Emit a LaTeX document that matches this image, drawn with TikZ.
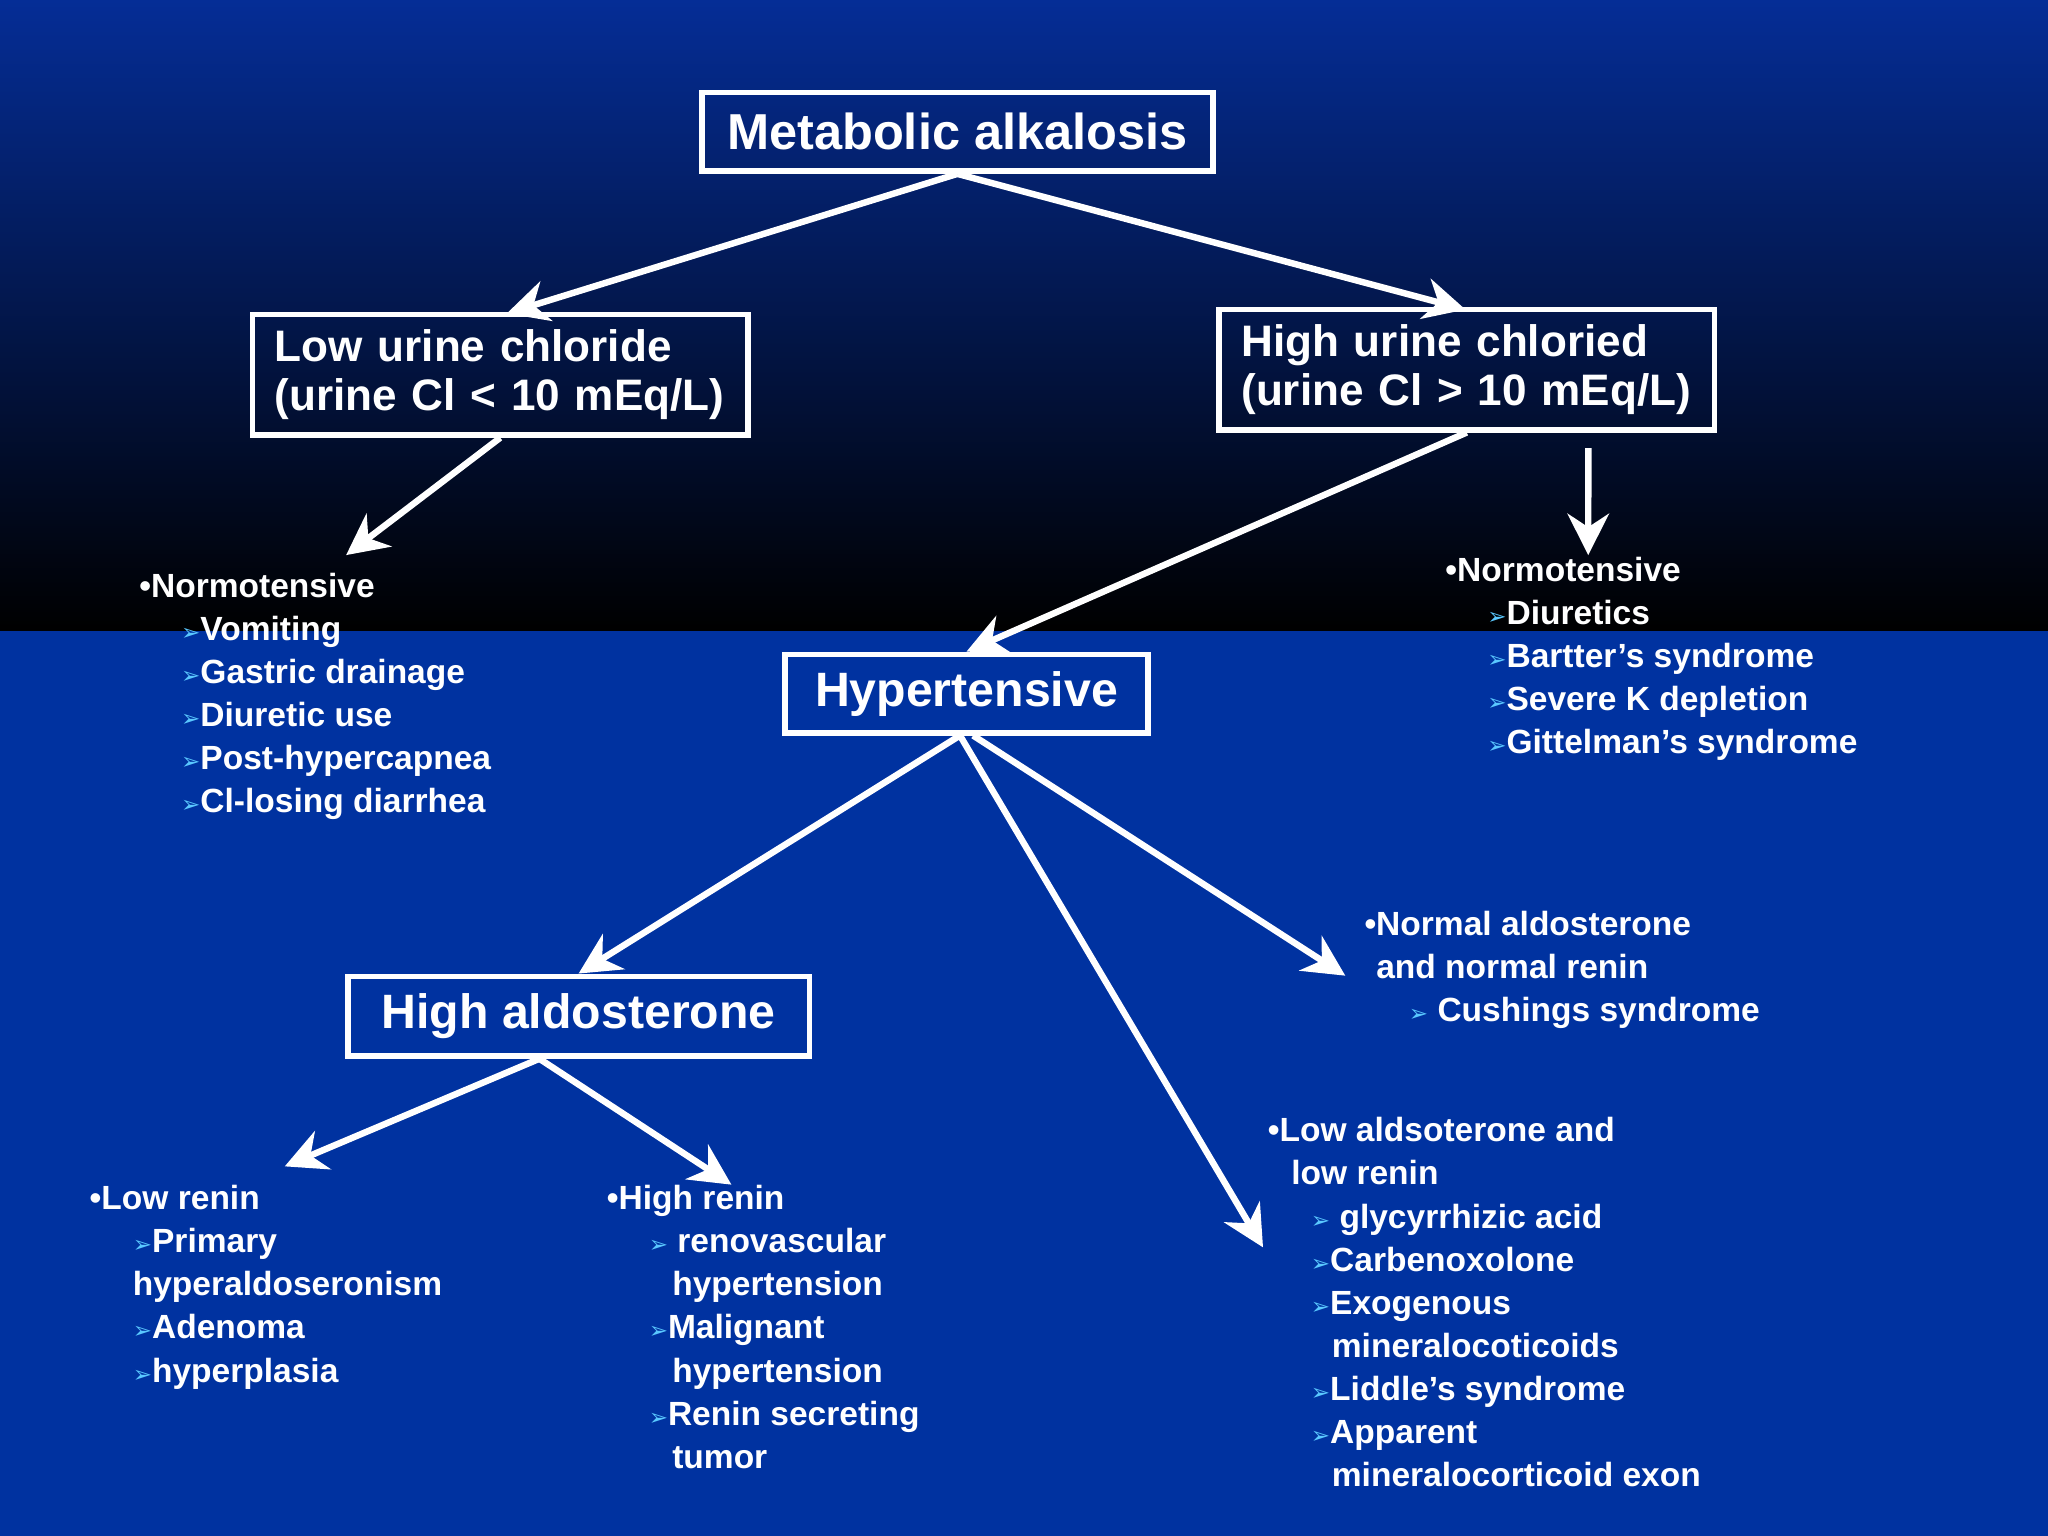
\documentclass[tikz,border=0pt]{standalone}
\usepackage{fontspec}
\setmainfont{Liberation Sans}[BoldFont={Liberation Sans Bold}]
\newfontfamily\dv{DejaVu Sans}
\usetikzlibrary{arrows.meta}
\definecolor{bgblue}{RGB}{0,50,160}
\definecolor{topblue}{RGB}{5,45,150}
\definecolor{arrc}{RGB}{90,200,255}
\newcommand{\ar}{{\dv\color{arrc}\fontsize{5}{5}\selectfont ➢}}
\begin{document}
\begin{tikzpicture}[x=0.01cm,y=-0.01cm,
 box/.style={draw=white,line width=1.2pt,text=white,font=\bfseries\fontsize{10.5}{12}\selectfont,inner sep=0pt},
 lst/.style={anchor=north west,align=left,text=white,inner sep=0pt,font=\bfseries\fontsize{7.3}{9.37}\selectfont},
 arr/.style={draw=white,line width=1.4pt,-{Stealth[length=9pt,width=9pt]}}]
\useasboundingbox (0,0) rectangle (1568,1176);
\fill[bgblue] (0,483) rectangle (1568,1176);
\shade[top color=topblue,bottom color=black] (0,0) rectangle (1568,483);
% boxes
\node[box,minimum width=3.91cm,minimum height=0.6cm] (ma) at (733,101) {\fontsize{11}{12}\selectfont Metabolic alkalosis};
\node[box,minimum width=3.79cm,minimum height=0.92cm,align=left,text width=3.45cm,font=\bfseries\fontsize{9.6}{10.6}\selectfont] (lo) at (383,287) {Low urine chloride\\(urine Cl < 10 mEq/L)};
\node[box,minimum width=3.79cm,minimum height=0.92cm,align=left,text width=3.45cm,font=\bfseries\fontsize{9.6}{10.6}\selectfont] (hi) at (1123,283) {High urine chloried\\(urine Cl > 10 mEq/L)};
\node[box,minimum width=2.78cm,minimum height=0.6cm] (ht) at (740,531) {Hypertensive};
\node[box,minimum width=3.53cm,minimum height=0.61cm] (ha) at (443,778) {High aldosterone};
% lists
\node[lst] (l1) at (106,438) {•Normotensive\\
\hspace{0.32cm}\ar Vomiting\\ \hspace{0.32cm}\ar Gastric drainage\\ \hspace{0.32cm}\ar Diuretic use\\
\hspace{0.32cm}\ar Post-hypercapnea\\ \hspace{0.32cm}\ar Cl-losing diarrhea};
\node[lst] (l2) at (1106,426) {•Normotensive\\
\hspace{0.32cm}\ar Diuretics\\ \hspace{0.32cm}\ar Bartter’s syndrome\\ \hspace{0.32cm}\ar Severe K depletion\\
\hspace{0.32cm}\ar Gittelman’s syndrome};
\node[lst] (l3) at (1044,697) {•Normal aldosterone\\
\hspace{0.09cm}and normal renin\\ \hspace{0.34cm}\ar\ Cushings syndrome};
\node[lst] (l4) at (970,855) {•Low aldsoterone and\\
\hspace{0.18cm}low renin\\ \hspace{0.33cm}\ar\ glycyrrhizic acid\\ \hspace{0.33cm}\ar Carbenoxolone\\
\hspace{0.33cm}\ar Exogenous\\ \hspace{0.49cm}mineralocoticoids\\ \hspace{0.33cm}\ar Liddle’s syndrome\\
\hspace{0.33cm}\ar Apparent\\ \hspace{0.49cm}mineralocorticoid exon};
\node[lst] (l5) at (68,907) {•Low renin\\
\hspace{0.33cm}\ar Primary\\ \hspace{0.33cm}hyperaldoseronism\\ \hspace{0.33cm}\ar Adenoma\\ \hspace{0.33cm}\ar hyperplasia};
\node[lst] (l6) at (464,907) {•High renin\\
\hspace{0.32cm}\ar\ renovascular\\ \hspace{0.5cm}hypertension\\ \hspace{0.32cm}\ar Malignant\\
\hspace{0.5cm}hypertension\\ \hspace{0.32cm}\ar Renin secreting\\ \hspace{0.5cm}tumor};
% connector endpoints
\coordinate (a1) at (388,240); \coordinate (a2) at (1122,237);
\coordinate (a3) at (265,425); \coordinate (a4) at (1216,425);
\coordinate (a5) at (1030,747); \coordinate (a6) at (967,955);
\coordinate (a7) at (218,893); \coordinate (a8) at (560,907);
\draw[arr] (ma.south) -- (a1);
\draw[arr] (ma.south) -- (a2);
\draw[arr] (lo.south) -- (a3);
\draw[arr] (hi.south) -- (ht.north);
\draw[arr] ([xshift=0.93cm,yshift=-0.12cm]hi.south) -- (a4);
\draw[arr] ([xshift=-0.05cm]ht.south) -- (ha.north);
\draw[arr] ([xshift=-0.05cm]ht.south) -- (a6);
\draw[arr] ([xshift=0.05cm]ht.south) -- (a5);
\draw[arr] ([xshift=-0.3cm]ha.south) -- (a7);
\draw[arr] ([xshift=-0.3cm]ha.south) -- (a8);
\end{tikzpicture}
\end{document}
